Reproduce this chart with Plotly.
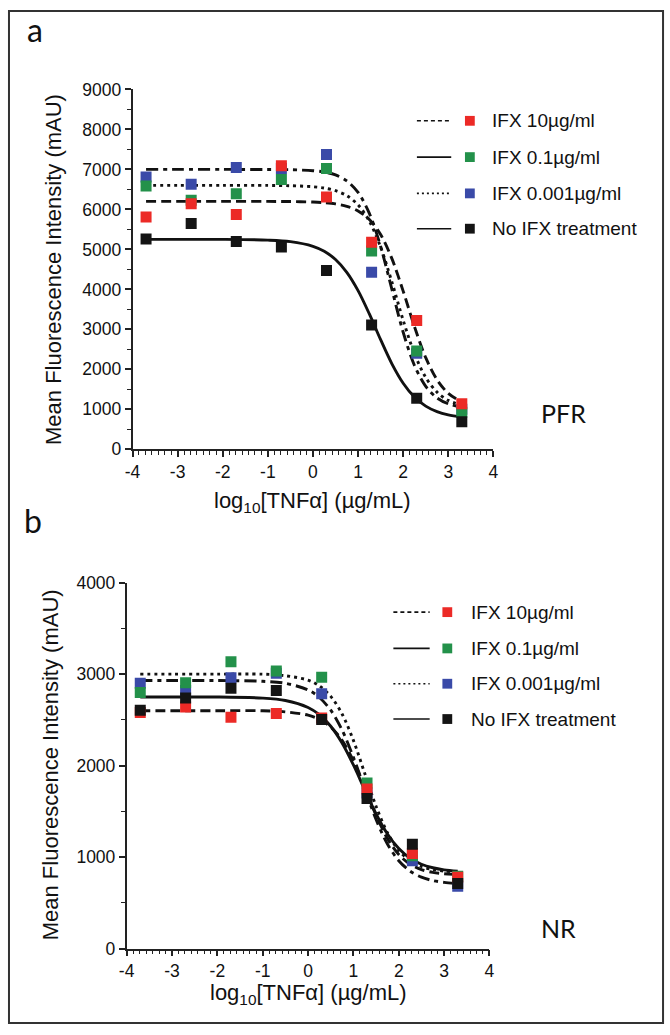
import plotly.graph_objects as go

# ---------------- data ----------------
X_PTS = [-3.7, -2.7, -1.7, -0.7, 0.3, 1.3, 2.3, 3.3]
X_FIT = [-3.7, -3, -2, -1, -0.5, 0, 0.25, 0.5, 0.75, 1.0, 1.25, 1.5, 1.75, 2.0,
         2.25, 2.5, 2.75, 3.0, 3.3]
X_TICKS = [-4, -3, -2, -1, 0, 1, 2, 3, 4]
X_TICK_LABELS = ["-4", "-3", "-2", "-1", "0", "1", "2", "3", "4"]

SERIES = ["IFX 10\u00b5g/ml", "IFX 0.1\u00b5g/ml", "IFX 0.001\u00b5g/ml", "No IFX treatment"]

# Panel a (PFR) measured points
PFR_IFX10 = [5810, 6140, 5875, 7090, 6310, 5180, 3220, 1140]
PFR_IFX01 = [6585, 6230, 6390, 6750, 7020, 4960, 2460, 930]
PFR_IFX0001 = [6810, 6630, 7050, 7020, 7370, 4430, 2400, 1000]
PFR_NOIFX = [5260, 5650, 5200, 5060, 4470, 3110, 1280, 690]
# Panel a fitted curves (read along X_FIT)
PFR_FIT_IFX10 = [6200, 6200, 6200, 6200, 6196, 6184, 6169, 6138, 6078, 5962, 5747,
                 5370, 4768, 3956, 3068, 2293, 1740, 1400, 1182]
PFR_FIT_IFX01 = [6600, 6600, 6600, 6600, 6592, 6567, 6534, 6469, 6344, 6112, 5706,
                 5058, 4183, 3227, 2393, 1797, 1431, 1224, 1100]
PFR_FIT_IFX0001 = [7000, 7000, 7000, 6998, 6993, 6968, 6934, 6861, 6714, 6425, 5902,
                   5073, 4000, 2928, 2097, 1575, 1286, 1139, 1057]
PFR_FIT_NOIFX = [5250, 5250, 5250, 5232, 5194, 5078, 4953, 4747, 4426, 3969, 3385,
                 2742, 2139, 1654, 1307, 1081, 942, 860, 806]

# Panel b (NR) measured points
NR_IFX10 = [2580, 2640, 2530, 2570, 2520, 1745, 1040, 780]
NR_IFX01 = [2800, 2905, 3135, 3035, 2965, 1810, 1015, 790]
NR_IFX0001 = [2900, 2820, 2960, 3010, 2785, 1700, 960, 680]
NR_NOIFX = [2605, 2740, 2845, 2820, 2505, 1640, 1140, 710]
# Panel b fitted curves
NR_FIT_IFX10 = [2600, 2600, 2600, 2600, 2588, 2552, 2506, 2422, 2277, 2053, 1762,
                1457, 1203, 1027, 922, 863, 832, 817, 809]
NR_FIT_IFX01 = [3000, 3000, 3000, 3000, 2983, 2934, 2871, 2757, 2565, 2276, 1915,
                1554, 1266, 1073, 959, 897, 864, 847, 837]
NR_FIT_IFX0001 = [2930, 2930, 2930, 2922, 2900, 2828, 2745, 2606, 2389, 2091, 1745,
                  1410, 1143, 960, 846, 780, 743, 723, 711]
NR_FIT_NOIFX = [2750, 2750, 2750, 2738, 2712, 2636, 2557, 2430, 2247, 2007, 1735,
                1471, 1252, 1093, 987, 921, 883, 860, 845]

# ---------------- styling ----------------
W, H = 670, 1035
FONT = "Arial, 'Liberation Sans', sans-serif"
FONT2 = "Lato, 'Open Sans', sans-serif"
COLORS = ["#EC2A26", "#23914A", "#3A4AA8", "#141414"]
CURVE_DASH = ["10px,5px", "3px,4px", "12px,5px,4px,5px", "solid"]
LEGEND_DASH = ["4px,3px", "solid", "2px,3px", "solid"]


def px(x):
    return x / W


def py(y):
    return 1 - y / H


fig = go.Figure()

panels = [
    dict(xa="x", ya="y",
         pts=[PFR_IFX10, PFR_IFX01, PFR_IFX0001, PFR_NOIFX],
         fits=[PFR_FIT_IFX10, PFR_FIT_IFX01, PFR_FIT_IFX0001, PFR_FIT_NOIFX]),
    dict(xa="x2", ya="y2",
         pts=[NR_IFX10, NR_IFX01, NR_IFX0001, NR_NOIFX],
         fits=[NR_FIT_IFX10, NR_FIT_IFX01, NR_FIT_IFX0001, NR_FIT_NOIFX]),
]

for p in panels:
    for i in range(4):
        fig.add_trace(go.Scatter(
            x=X_FIT, y=p["fits"][i], xaxis=p["xa"], yaxis=p["ya"], mode="lines",
            line=dict(color="#111111", width=2.9, dash=CURVE_DASH[i],
                      shape="spline", smoothing=0.9),
            showlegend=False, hoverinfo="skip"))
    for i in [2, 1, 0, 3]:
        fig.add_trace(go.Scatter(
            x=X_PTS, y=p["pts"][i], xaxis=p["xa"], yaxis=p["ya"], mode="markers",
            name=SERIES[i],
            marker=dict(symbol="square", size=11, color=COLORS[i], line=dict(width=0)),
            showlegend=False))

axis_common = dict(showline=True, linewidth=1.6, linecolor="#222222", showgrid=False,
                   zeroline=False, ticks="outside", ticklen=6, tickwidth=1.6,
                   tickcolor="#222222", tickfont=dict(family=FONT, size=17.5, color="#111"),
                   fixedrange=True)

fig.update_layout(
    width=W, height=H, margin=dict(l=0, r=0, t=0, b=0),
    paper_bgcolor="white", plot_bgcolor="white", showlegend=False,
    xaxis=dict(domain=[px(127), px(495)], range=[-4, 4], anchor="y",
               tickvals=X_TICKS, ticktext=X_TICK_LABELS,
               minor=dict(tick0=-4, dtick=1 / 7, ticks="outside", ticklen=3.5,
                          tickwidth=1.2, tickcolor="#222222"),
               **axis_common),
    yaxis=dict(domain=[py(448), py(81)], range=[0, 9000], anchor="x", dtick=1000,
               minor=dict(dtick=500, ticks="outside", ticklen=4, tickwidth=1.4,
                          tickcolor="#222222"),
               **axis_common),
    xaxis2=dict(domain=[px(121), px(491)], range=[-4, 4], anchor="y2",
                tickvals=X_TICKS, ticktext=X_TICK_LABELS,
                minor=dict(tick0=-4, dtick=1 / 7, ticks="outside", ticklen=3.5,
                           tickwidth=1.2, tickcolor="#222222"),
                **axis_common),
    yaxis2=dict(domain=[py(957), py(584)], range=[0, 4000], anchor="x2", dtick=1000,
                minor=dict(dtick=500, ticks="outside", ticklen=4, tickwidth=1.4,
                           tickcolor="#222222"),
                **axis_common),
)

ann = []


def text(x, y, s, size, xanchor="center", yanchor="middle", angle=0, family=FONT):
    ann.append(dict(x=px(x), y=py(y), xref="paper", yref="paper", text=s,
                    showarrow=False, xanchor=xanchor, yanchor=yanchor, textangle=angle,
                    font=dict(family=family, size=size, color="#111")))


YTITLE = "Mean Fluorescence Intensity (mAU)"
XTITLE = "log<sub>10</sub>[TNF\u03b1] (\u00b5g/mL)"

text(28, 20, "a", 32, family=FONT2)
text(26, 521, "b", 32, family=FONT2)
text(47, 265, YTITLE, 22, angle=-90)
text(43, 770, YTITLE, 22, angle=-90)
text(311, 502, XTITLE, 22)
text(306, 1003, XTITLE, 22)
text(567, 411, "PFR", 25, family=FONT2)
text(561, 936, "NR", 25, family=FONT2)

shapes = []


def legend(rows_y, lx0, lx1, mx, tx):
    for i, yy in enumerate(rows_y):
        shapes.append(dict(type="line", xref="paper", yref="paper",
                           x0=px(lx0), x1=px(lx1), y0=py(yy), y1=py(yy),
                           line=dict(color="#111", width=1.6, dash=LEGEND_DASH[i])))
        shapes.append(dict(type="rect", xref="paper", yref="paper",
                           x0=px(mx - 5), x1=px(mx + 5), y0=py(yy - 5), y1=py(yy + 5),
                           fillcolor=COLORS[i], line=dict(width=0)))
        text(tx, yy, SERIES[i], 19, xanchor="left")


legend([113, 150, 187, 223], 417, 452, 471, 492)
legend([614, 651, 687, 723], 393, 430, 448, 470)

# outer frame
shapes.append(dict(type="rect", xref="paper", yref="paper",
                   x0=px(1), x1=px(668), y0=py(1033), y1=py(1),
                   line=dict(color="#333", width=2), fillcolor="rgba(0,0,0,0)"))

fig.update_layout(annotations=ann, shapes=shapes)

fig.write_html("out.html", config=dict(displayModeBar=False),
               post_script="document.body.style.margin='0px';")
